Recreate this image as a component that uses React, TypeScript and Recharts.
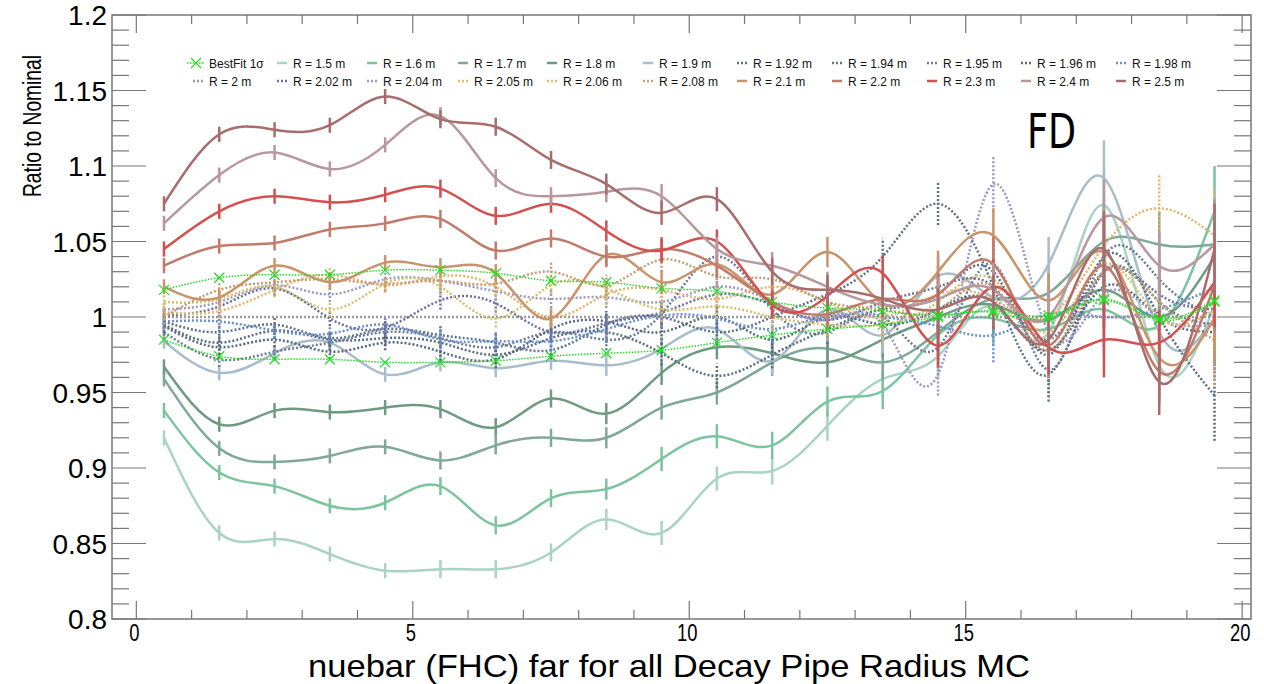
import React from 'react'
import { LineChart, Line, XAxis, YAxis, ErrorBar } from 'recharts'

// bin centres (x) and a shared per-bin statistical error
const binCenters = [0.5, 1.5, 2.5, 3.5, 4.5, 5.5, 6.5, 7.5, 8.5, 9.5, 10.5, 11.5, 12.5, 13.5, 14.5, 15.5, 16.5, 17.5, 18.5, 19.5]
const binErrors = [0.005, 0.005, 0.005, 0.005, 0.005, 0.006, 0.006, 0.006, 0.007, 0.008, 0.008, 0.009, 0.01, 0.012, 0.014, 0.018, 0.018, 0.025, 0.022, 0.03]

const bestFitUp = [1.018, 1.026, 1.028, 1.028, 1.031, 1.031, 1.029, 1.024, 1.023, 1.019, 1.017, 1.010, 1.006, 1.004, 1.001, 1.004, 1.001, 1.011, 0.999, 1.011]
const bestFitDown = [0.985, 0.974, 0.972, 0.972, 0.970, 0.970, 0.971, 0.974, 0.976, 0.978, 0.983, 0.988, 0.992, 0.995, 1.000, 1.003, 0.999, 1.012, 0.998, 1.010]

const r150 = [0.920, 0.857, 0.853, 0.843, 0.832, 0.833, 0.833, 0.844, 0.866, 0.857, 0.893, 0.898, 0.928, 0.959, 0.974, 1.007, 0.990, 1.074, 0.968, 1.008]
const r160 = [0.938, 0.897, 0.888, 0.875, 0.877, 0.888, 0.862, 0.880, 0.886, 0.906, 0.921, 0.915, 0.944, 0.951, 0.988, 0.999, 0.992, 1.005, 0.994, 1.070]
const r170 = [0.959, 0.913, 0.904, 0.908, 0.914, 0.905, 0.915, 0.920, 0.920, 0.940, 0.950, 0.970, 0.979, 0.970, 0.990, 1.012, 1.016, 1.050, 1.048, 1.048]
const r180 = [0.967, 0.929, 0.938, 0.937, 0.940, 0.939, 0.927, 0.946, 0.936, 0.963, 0.980, 0.976, 0.970, 0.985, 1.000, 1.008, 0.998, 1.018, 1.000, 1.040]
const r190 = [0.984, 0.963, 0.976, 0.983, 0.962, 0.970, 0.966, 0.971, 0.968, 0.979, 0.992, 0.971, 1.005, 0.988, 1.027, 1.013, 1.035, 1.092, 0.990, 0.999]
const r192 = [0.995, 0.983, 0.991, 0.985, 0.986, 0.983, 0.975, 0.986, 0.990, 0.976, 0.961, 0.975, 0.992, 1.005, 1.015, 1.030, 0.975, 1.040, 1.000, 0.948]
const r194 = [0.997, 0.990, 0.995, 0.986, 0.992, 0.988, 0.983, 0.978, 0.995, 1.000, 0.990, 1.000, 1.015, 1.040, 1.075, 1.020, 0.962, 1.030, 1.010, 0.995]
const r195 = [0.990, 0.972, 0.977, 0.983, 0.990, 0.986, 0.980, 0.990, 0.985, 1.002, 1.040, 1.005, 0.990, 1.000, 0.980, 1.035, 0.965, 1.040, 1.025, 1.000]
const r196 = [0.994, 0.980, 0.985, 0.977, 0.983, 0.977, 0.972, 0.992, 0.997, 0.990, 1.000, 0.985, 1.000, 0.995, 1.005, 1.010, 0.978, 1.020, 1.000, 0.990]
const r198 = [0.997, 0.997, 0.991, 0.989, 0.995, 0.985, 0.984, 0.984, 0.992, 1.001, 0.999, 0.992, 1.001, 1.000, 0.994, 0.988, 1.002, 1.000, 1.005, 1.019]
const r200 = [1, 1, 1, 1, 1, 1, 1, 1, 1, 1, 1, 1, 1, 1, 1, 1, 1, 1, 1, 1]
const r202 = [1.001, 1.007, 1.019, 0.999, 0.993, 1.011, 1.009, 0.990, 0.996, 1.003, 1.015, 1.008, 0.998, 1.010, 1.020, 1.020, 0.985, 1.030, 1.015, 1.005]
const r204 = [1.005, 1.010, 1.021, 1.015, 1.025, 1.024, 1.017, 1.012, 1.013, 1.010, 1.020, 1.010, 0.998, 0.995, 0.962, 1.088, 0.990, 1.015, 1.000, 0.995]
const r205 = [1.010, 1.012, 1.020, 1.005, 1.022, 1.020, 0.999, 1.021, 1.019, 1.005, 1.007, 1.000, 0.995, 0.995, 1.010, 1.025, 0.990, 1.035, 1.000, 1.005]
const r206 = [1.003, 1.004, 1.018, 1.028, 1.021, 1.027, 1.020, 1.000, 1.015, 1.018, 1.012, 1.020, 1.010, 1.000, 1.015, 1.012, 1.000, 1.047, 1.072, 1.054]
const r208 = [1.000, 1.018, 1.023, 1.025, 1.022, 1.024, 1.022, 1.030, 1.021, 1.038, 1.027, 1.025, 1.010, 1.005, 1.005, 1.020, 0.978, 1.030, 1.010, 0.985]
const r210 = [1.020, 1.013, 1.034, 1.023, 1.036, 1.033, 1.029, 0.999, 1.041, 1.023, 1.035, 1.015, 1.043, 1.009, 1.030, 1.054, 1.011, 1.043, 0.973, 0.999]
const r220 = [1.034, 1.047, 1.049, 1.058, 1.062, 1.065, 1.044, 1.052, 1.040, 1.045, 1.034, 1.010, 1.002, 1.012, 1.015, 1.035, 0.981, 1.034, 0.964, 1.021]
const r230 = [1.045, 1.070, 1.080, 1.076, 1.081, 1.085, 1.067, 1.075, 1.057, 1.044, 1.050, 1.008, 1.014, 1.029, 0.981, 1.020, 0.980, 0.985, 0.983, 1.023]
const r240 = [1.062, 1.094, 1.109, 1.098, 1.114, 1.133, 1.092, 1.080, 1.083, 1.080, 1.045, 1.034, 1.020, 1.008, 1.012, 1.018, 1.000, 1.066, 1.034, 1.048]
const r250 = [1.075, 1.121, 1.124, 1.127, 1.146, 1.131, 1.126, 1.104, 1.088, 1.069, 1.078, 1.030, 1.018, 1.012, 1.005, 1.010, 0.985, 1.045, 0.957, 1.045]

const yTickLabels = ['0.8', '0.85', '0.9', '0.95', '1', '1.05', '1.1', '1.15', '1.2']
const xTickLabels = ['0', '5', '10', '15', '20']

type Series = { key: string; label: string; color: string; dotted: boolean; values: number[] }

const series: Series[] = [
  { key: 'r150', label: 'R = 1.5 m', color: '#a9d4c1', dotted: false, values: r150 },
  { key: 'r160', label: 'R = 1.6 m', color: '#7cc39f', dotted: false, values: r160 },
  { key: 'r170', label: 'R = 1.7 m', color: '#80a898', dotted: false, values: r170 },
  { key: 'r180', label: 'R = 1.8 m', color: '#6f9a82', dotted: false, values: r180 },
  { key: 'r190', label: 'R = 1.9 m', color: '#a9bccb', dotted: false, values: r190 },
  { key: 'r192', label: 'R = 1.92 m', color: '#5a6e84', dotted: true, values: r192 },
  { key: 'r194', label: 'R = 1.94 m', color: '#5f7389', dotted: true, values: r194 },
  { key: 'r195', label: 'R = 1.95 m', color: '#6b7b94', dotted: true, values: r195 },
  { key: 'r196', label: 'R = 1.96 m', color: '#55697e', dotted: true, values: r196 },
  { key: 'r198', label: 'R = 1.98 m', color: '#6b8fd6', dotted: true, values: r198 },
  { key: 'r200', label: 'R = 2 m', color: '#9a9a9a', dotted: true, values: r200 },
  { key: 'r202', label: 'R = 2.02 m', color: '#6b6fa0', dotted: true, values: r202 },
  { key: 'r204', label: 'R = 2.04 m', color: '#9b98c9', dotted: true, values: r204 },
  { key: 'r205', label: 'R = 2.05 m', color: '#d4c16c', dotted: true, values: r205 },
  { key: 'r206', label: 'R = 2.06 m', color: '#e4b36c', dotted: true, values: r206 },
  { key: 'r208', label: 'R = 2.08 m', color: '#c69c70', dotted: true, values: r208 },
  { key: 'r210', label: 'R = 2.1 m', color: '#c9946b', dotted: false, values: r210 },
  { key: 'r220', label: 'R = 2.2 m', color: '#c27b6b', dotted: false, values: r220 },
  { key: 'r230', label: 'R = 2.3 m', color: '#d44f4f', dotted: false, values: r230 },
  { key: 'r240', label: 'R = 2.4 m', color: '#b9979e', dotted: false, values: r240 },
  { key: 'r250', label: 'R = 2.5 m', color: '#a76d6d', dotted: false, values: r250 },
]

const BEST_COLOR = '#22dd22'

const W = 1264
const H = 684
const PLOT_LEFT = 112
const PLOT_RIGHT = 1251
const PLOT_TOP = 15
const PLOT_BOTTOM = 619
const AXIS_COLOR = '#777'

const data = binCenters.map((x, i) => {
  const row: Record<string, number> = { x, bestUp: bestFitUp[i], bestDown: bestFitDown[i] }
  series.forEach(s => {
    row[s.key] = s.values[i]
    row[s.key + 'Err'] = binErrors[i]
  })
  return row
})

const xTicks = Array.from({ length: 21 }, (_, i) => i)
const yTicks = Array.from({ length: 41 }, (_, i) => Math.round((0.8 + i * 0.01) * 100) / 100)

function XTick(props: any) {
  const { x, payload } = props
  const v = payload.value as number
  const major = v % 5 === 0
  const len = major ? 18 : 9
  const label = xTickLabels.find(t => Number(t) === v)
  return (
    <g>
      <line x1={x} x2={x} y1={PLOT_BOTTOM} y2={PLOT_BOTTOM - len} stroke={AXIS_COLOR} strokeWidth={1.2} />
      <line x1={x} x2={x} y1={PLOT_TOP} y2={PLOT_TOP + len} stroke={AXIS_COLOR} strokeWidth={1.2} />
      {label && (
        <text
          x={0} y={0} textAnchor="middle" fontSize={23} fill="#000"
          fontFamily="Liberation Sans, Arial, sans-serif"
          transform={`translate(${x - 2} ${PLOT_BOTTOM + 22}) scale(0.8 1)`}
        >{label}</text>
      )}
    </g>
  )
}

function YTick(props: any) {
  const { y, payload } = props
  const v = payload.value as number
  const label = yTickLabels.find(t => Math.abs(Number(t) - v) < 1e-6)
  const len = label ? 34 : 17
  return (
    <g>
      <line x1={PLOT_LEFT} x2={PLOT_LEFT + len} y1={y} y2={y} stroke={AXIS_COLOR} strokeWidth={1.2} />
      <line x1={PLOT_RIGHT} x2={PLOT_RIGHT - len} y1={y} y2={y} stroke={AXIS_COLOR} strokeWidth={1.2} />
      {label && (
        <text x={107} y={y + 10} textAnchor="end" fontSize={28} fill="#000"
          fontFamily="Liberation Sans, Arial, sans-serif">{label}</text>
      )}
    </g>
  )
}

function Cross(props: any) {
  const { cx, cy } = props
  if (cx == null || cy == null) return null
  const s = 5
  return (
    <path d={`M${cx - s},${cy - s}L${cx + s},${cy + s}M${cx - s},${cy + s}L${cx + s},${cy - s}`}
      stroke={BEST_COLOR} strokeWidth={1.2} fill="none" />
  )
}

const legendCols = [209, 293, 383, 474, 563, 659, 753, 848, 943, 1037, 1132]
const legendRows = [63, 81]

function LegendBox() {
  const entries = [{ label: 'BestFit 1σ', best: true } as any, ...series]
  return (
    <g fontFamily="Liberation Sans, Arial, sans-serif" fontSize={12}>
      {entries.map((e, i) => {
        const tx = legendCols[i % 11]
        const ty = legendRows[Math.floor(i / 11)]
        return (
          <g key={i}>
            {e.best ? (
              <g>
                <line x1={tx - 22} x2={tx - 4} y1={ty} y2={ty} stroke={BEST_COLOR} strokeWidth={1.5} strokeDasharray="1.5 1.5" />
                <Cross cx={tx - 13} cy={ty} />
              </g>
            ) : (
              <line x1={tx - 16} x2={tx - 6} y1={ty} y2={ty} stroke={e.color} strokeWidth={2.5}
                strokeDasharray={e.dotted ? '2 2' : undefined} />
            )}
            <text x={tx} y={ty + 4.5} fill="#111">{e.label}</text>
          </g>
        )
      })}
    </g>
  )
}

export default function App() {
  return (
    <div style={{ position: 'relative', width: W, height: H, background: '#fff' }}>
      <style>{'body{margin:0}'}</style>
      <LineChart width={W} height={H} data={data}
        margin={{ top: PLOT_TOP, right: W - PLOT_RIGHT, bottom: 0, left: 0 }}>
        <XAxis dataKey="x" type="number" domain={[-0.44, 20.16]} allowDataOverflow
          ticks={xTicks} interval={0} tick={<XTick />} tickLine={false} axisLine={false}
          height={H - PLOT_BOTTOM} />
        <YAxis type="number" domain={[0.8, 1.2]} allowDataOverflow ticks={yTicks} interval={0}
          tick={<YTick />} tickLine={false} axisLine={false} width={PLOT_LEFT} />
        {series.map(s => (
          <Line key={s.key} dataKey={s.key} type="natural" stroke={s.color} strokeWidth={2.5}
            strokeDasharray={s.dotted ? '2 2' : undefined} dot={false} activeDot={false}
            isAnimationActive={false}>
            {s.key !== 'r200' && (
              <ErrorBar dataKey={s.key + 'Err'} width={0} stroke={s.color} strokeWidth={2.5}
                strokeDasharray={s.dotted ? '2 2' : undefined} direction="y" isAnimationActive={false} />
            )}
          </Line>
        ))}
        <Line dataKey="bestUp" type="natural" stroke={BEST_COLOR} strokeWidth={1.5} strokeDasharray="1.5 1.5"
          dot={<Cross />} activeDot={false} isAnimationActive={false} />
        <Line dataKey="bestDown" type="natural" stroke={BEST_COLOR} strokeWidth={1.5} strokeDasharray="1.5 1.5"
          dot={<Cross />} activeDot={false} isAnimationActive={false} />
      </LineChart>
      <svg width={W} height={H} style={{ position: 'absolute', left: 0, top: 0, pointerEvents: 'none' }}>
        <rect x={PLOT_LEFT} y={PLOT_TOP} width={PLOT_RIGHT - PLOT_LEFT} height={PLOT_BOTTOM - PLOT_TOP}
          fill="none" stroke={AXIS_COLOR} strokeWidth={1.5} />
        <LegendBox />
        <text x={0} y={0} fontSize={48} fontFamily="DejaVu Sans, sans-serif" fill="#000"
          transform="translate(1027 148) scale(0.76 1)">FD</text>
        <text x={0} y={0} fontSize={32} fontFamily="Liberation Sans, Arial, sans-serif" fill="#000"
          textAnchor="middle" textLength={722} lengthAdjust="spacingAndGlyphs"
          transform="translate(669 677)">nuebar (FHC) far for all Decay Pipe Radius MC</text>
        <text x={0} y={0} fontSize={25} fontFamily="Liberation Sans, Arial, sans-serif" fill="#000"
          textAnchor="middle" textLength={142} lengthAdjust="spacingAndGlyphs"
          transform="translate(41 126) rotate(-90)">Ratio to Nominal</text>
      </svg>
    </div>
  )
}
